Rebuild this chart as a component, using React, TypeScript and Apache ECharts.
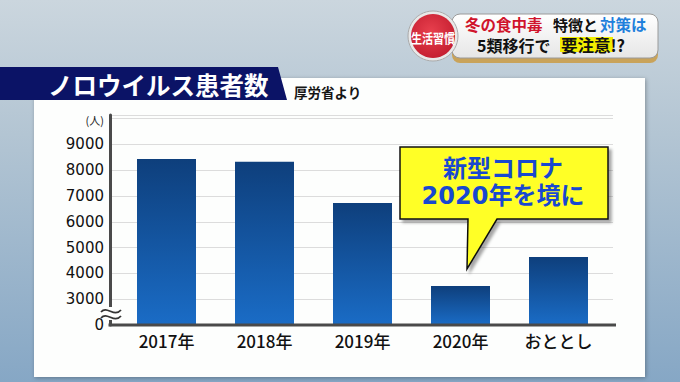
import React, { useEffect, useRef } from "react";
import * as echarts from "echarts";

const categories = ["2017年", "2018年", "2019年", "2020年", "おととし"];
const patients = [8430, 8330, 6730, 3510, 4640];
const axisMin = 2000; // shown as "0" (broken axis)
const axisMax = 10140;
const axisStep = 1000;

const CJK = '"Noto Sans CJK JP", sans-serif';

export default function App() {
  const ref = useRef<HTMLDivElement>(null);
  useEffect(() => {
    if (!ref.current) return;
    const chart = echarts.init(ref.current, null, { renderer: "svg" });
    const barGrad = new echarts.graphic.LinearGradient(0, 0, 0, 1, [
      { offset: 0, color: "#0e3f7c" },
      { offset: 1, color: "#1a6cc6" },
    ]);
    const option: any = {
      animation: false,
      backgroundColor: "transparent",
      grid: [
        { left: 117.5, right: 72.5, top: 115, bottom: 57 },
        { left: 110, right: 67, top: 115, bottom: 57 },
      ],
      xAxis: [
        {
          type: "category",
          gridIndex: 0,
          data: categories,
          axisLine: { show: false },
          axisTick: { show: false },
          axisLabel: {
            margin: 7,
            color: "#111",
            fontSize: 17,
            fontWeight: 500,
            fontFamily: '"Liberation Sans Narrow", "Noto Sans CJK JP", sans-serif',
          },
          z: 3,
        },
        { type: "value", gridIndex: 1, show: false, min: 0, max: 1 },
      ],
      yAxis: [
        {
          type: "value",
          gridIndex: 0,
          min: axisMin,
          max: axisMax,
          interval: axisStep,
          offset: 7.5,
          axisLine: { show: true, lineStyle: { color: "#4a4a4a", width: 3 } },
          axisTick: { show: false },
          splitLine: { show: false },
          axisLabel: {
            margin: 6,
            color: "#111",
            fontSize: 15,
            fontFamily: '"DejaVu Sans", sans-serif',
            formatter: (v: number) => (v === axisMin ? "0" : v > 9000 ? "" : String(v)),
          },
          z: 3,
        },
        {
          type: "value",
          gridIndex: 1,
          min: axisMin,
          max: axisMax,
          interval: axisStep,
          axisLine: { show: false },
          axisTick: { show: false },
          axisLabel: { show: false },
          splitLine: { show: true, lineStyle: { color: "#dcdcdc", width: 1 } },
          z: 2,
        },
      ],
      series: [
        {
          type: "bar",
          xAxisIndex: 0,
          yAxisIndex: 0,
          data: patients,
          barWidth: 59,
          itemStyle: { color: barGrad },
          z: 4,
        },
      ],
      graphic: [
        // white panel
        {
          type: "rect",
          z: 0,
          shape: { x: 34, y: 78, width: 611, height: 299 },
          style: { fill: "#fdfefd", shadowBlur: 4, shadowColor: "rgba(0,0,0,0.3)", shadowOffsetX: 1, shadowOffsetY: 1 },
        },
        // title bar
        {
          type: "polygon",
          z: 1,
          shape: { points: [[0, 67], [278, 67], [287, 100], [0, 100]] },
          style: { fill: "#0b1366" },
        },
        {
          type: "text",
          z: 2,
          x: 48,
          y: 84,
          style: { text: "ノロウイルス患者数", fill: "#ffffff", fontSize: 24.5, fontWeight: "bold", fontFamily: CJK, verticalAlign: "middle" },
        },
        {
          type: "text",
          z: 2,
          x: 294,
          y: 92,
          style: { text: "厚労省より", fill: "#151515", fontSize: 13.5, fontWeight: "bold", fontFamily: CJK, verticalAlign: "middle" },
        },
        {
          type: "text",
          z: 10,
          x: 104,
          y: 120,
          style: { text: "(人)", fill: "#222", fontSize: 11, fontFamily: CJK, align: "right", verticalAlign: "middle" },
        },
        // x axis line
        {
          type: "line",
          z: 5,
          shape: { x1: 108.5, y1: 325, x2: 616, y2: 325 },
          style: { stroke: "#4a4a4a", lineWidth: 3 },
        },
        // axis break
        {
          type: "rect",
          z: 6,
          shape: { x: 104, y: 307, width: 14, height: 13 },
          style: { fill: "#fdfefd" },
        },
        {
          type: "bezierCurve",
          z: 7,
          shape: { x1: 101, y1: 312, cpx1: 107, cpy1: 305, cpx2: 114, cpy2: 318, x2: 121, y2: 310 },
          style: { stroke: "#333", lineWidth: 1.8, fill: "none" },
        },
        {
          type: "bezierCurve",
          z: 7,
          shape: { x1: 101, y1: 318, cpx1: 107, cpy1: 311, cpx2: 114, cpy2: 324, x2: 121, y2: 316 },
          style: { stroke: "#333", lineWidth: 1.8, fill: "none" },
        },
        // callout
        {
          type: "polygon",
          z: 10,
          shape: { points: [[400, 147], [608, 147], [608, 219], [497, 219], [467, 269], [468, 219], [400, 219]] },
          style: { fill: "#ffff26", stroke: "#111", lineWidth: 1.5, shadowBlur: 3, shadowOffsetX: 3, shadowOffsetY: 3, shadowColor: "rgba(0,0,0,0.35)" },
        },
        {
          type: "text",
          z: 11,
          x: 503,
          y: 182,
          style: {
            text: "新型コロナ\n2020年を境に",
            fill: "#1848d0",
            fontSize: 24,
            lineHeight: 27,
            fontWeight: "bold",
            fontFamily: '"DejaVu Sans", "Noto Sans CJK JP", sans-serif',
            align: "center",
            verticalAlign: "middle",
          },
        },
        // header box
        {
          type: "rect",
          z: 1,
          shape: { x: 452, y: 18, width: 206, height: 45, r: 8 },
          style: { fill: "#c9a35a" },
        },
        {
          type: "rect",
          z: 2,
          shape: { x: 452, y: 14, width: 206, height: 44, r: 8 },
          style: {
            fill: { type: "linear", x: 0, y: 0, x2: 0, y2: 1, colorStops: [{ offset: 0, color: "#ffffff" }, { offset: 1, color: "#e6e6e6" }] },
            stroke: "#9a9a9a",
            lineWidth: 1,
          },
        },
        {
          type: "circle",
          z: 3,
          shape: { cx: 433, cy: 36, r: 25 },
          style: { fill: "#e8e8e8", stroke: "#aaa", lineWidth: 1 },
        },
        {
          type: "circle",
          z: 4,
          shape: { cx: 433, cy: 36, r: 22 },
          style: {
            fill: { type: "radial", x: 0.45, y: 0.4, r: 0.7, colorStops: [{ offset: 0, color: "#e8404e" }, { offset: 1, color: "#c01a2c" }] },
          },
        },
        {
          type: "text",
          z: 5,
          x: 433,
          y: 37,
          scaleX: 0.85,
          style: { text: "生活習慣", fill: "#ffffff", fontSize: 13, fontWeight: "bold", fontFamily: CJK, align: "center", verticalAlign: "middle" },
        },
        {
          type: "text",
          z: 5,
          x: 465,
          y: 24,
          style: { text: "冬の食中毒", fill: "#d0142c", fontSize: 15.5, fontWeight: "bold", fontFamily: CJK, verticalAlign: "middle" },
        },
        {
          type: "text",
          z: 5,
          x: 553,
          y: 24,
          style: { text: "特徴と", fill: "#111", fontSize: 15, fontWeight: "bold", fontFamily: CJK, verticalAlign: "middle" },
        },
        {
          type: "text",
          z: 5,
          x: 600,
          y: 24,
          style: { text: "対策は", fill: "#1f80dc", fontSize: 15.5, fontWeight: "bold", fontFamily: CJK, verticalAlign: "middle" },
        },
        {
          type: "rect",
          z: 4,
          shape: { x: 560, y: 37, width: 53, height: 15 },
          style: { fill: "#f2ee00" },
        },
        {
          type: "text",
          z: 5,
          x: 477,
          y: 44.5,
          style: { text: "5類移行で", fill: "#111", fontSize: 16, fontWeight: "bold", fontFamily: CJK, verticalAlign: "middle" },
        },
        {
          type: "text",
          z: 5,
          x: 561,
          y: 44.5,
          style: { text: "要注意!?", fill: "#111", fontSize: 16.5, fontWeight: "bold", fontFamily: CJK, verticalAlign: "middle" },
        },
      ],
    };
    chart.setOption(option);
    return () => chart.dispose();
  }, []);
  return (
    <div
      ref={ref}
      style={{
        position: "fixed",
        left: 0,
        top: 0,
        width: 680,
        height: 382,
        background: "linear-gradient(180deg, #cbd6de 0%, #b3c5d3 35%, #86a7c5 100%)",
      }}
    />
  );
}
